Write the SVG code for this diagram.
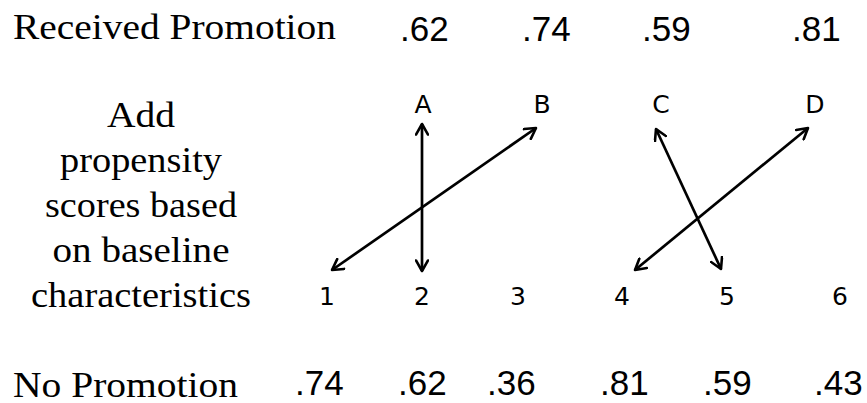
<svg xmlns="http://www.w3.org/2000/svg" width="867" height="403" viewBox="0 0 867 403">
<style>
.serif{font-family:"Liberation Serif","Times New Roman",serif;font-size:36px;fill:#000}
.lbl{text-anchor:middle}
.num{font-family:"Liberation Sans",Arial,sans-serif;font-size:35px;fill:#000}
.hand{font-family:"DejaVu Sans","Liberation Sans",sans-serif;font-size:25px;fill:#000;text-anchor:middle}
.conn line{stroke:#000;stroke-width:2.7;fill:none;marker-start:url(#ah);marker-end:url(#ah)}
</style>
<defs>
<marker id="ah" viewBox="0 0 14 14" refX="12" refY="7" markerWidth="14" markerHeight="14" markerUnits="userSpaceOnUse" orient="auto-start-reverse">
<path d="M1.5,1 L12,7 L1.5,13" fill="none" stroke="#000" stroke-width="2.6" stroke-linecap="round" stroke-linejoin="round"/>
</marker>
</defs>
<rect width="867" height="403" fill="#fff"/>
<g id="top-row">
<text class="serif" x="13" y="39" textLength="323" lengthAdjust="spacingAndGlyphs">Received Promotion</text>
<text class="num" x="400" y="41">.62</text>
<text class="num" x="522" y="41">.74</text>
<text class="num" x="642" y="41">.59</text>
<text class="num" x="792" y="41">.81</text>
</g>
<g id="label">
<text class="serif lbl" x="141" y="127" textLength="68" lengthAdjust="spacingAndGlyphs">Add</text>
<text class="serif lbl" x="141" y="172" textLength="162" lengthAdjust="spacingAndGlyphs">propensity</text>
<text class="serif lbl" x="141" y="217" textLength="192" lengthAdjust="spacingAndGlyphs">scores based</text>
<text class="serif lbl" x="141" y="262" textLength="177" lengthAdjust="spacingAndGlyphs">on baseline</text>
<text class="serif lbl" x="141" y="307" textLength="220" lengthAdjust="spacingAndGlyphs">characteristics</text>
</g>
<g id="node-A"><text class="hand" x="423" y="113">A</text></g>
<g id="node-B"><text class="hand" x="542" y="113">B</text></g>
<g id="node-C"><text class="hand" x="661" y="113">C</text></g>
<g id="node-D"><text class="hand" x="815" y="113">D</text></g>
<g id="node-1"><text class="hand" x="327" y="305">1</text></g>
<g id="node-2"><text class="hand" x="422" y="305">2</text></g>
<g id="node-3"><text class="hand" x="518" y="305">3</text></g>
<g id="node-4"><text class="hand" x="622" y="305">4</text></g>
<g id="node-5"><text class="hand" x="727" y="305">5</text></g>
<g id="node-6"><text class="hand" x="840" y="305">6</text></g>
<g class="conn" id="connectors">
<line x1="422" y1="124" x2="422" y2="271"/>
<line x1="332" y1="270" x2="536" y2="128"/>
<line x1="656" y1="129" x2="721" y2="269"/>
<line x1="635" y1="270" x2="808" y2="128"/>
</g>
<g id="bottom-row">
<text class="serif" x="13" y="397" textLength="225" lengthAdjust="spacingAndGlyphs">No Promotion</text>
<text class="num" x="295" y="395">.74</text>
<text class="num" x="398" y="395">.62</text>
<text class="num" x="487" y="395">.36</text>
<text class="num" x="600" y="395">.81</text>
<text class="num" x="703" y="395">.59</text>
<text class="num" x="814" y="395">.43</text>
</g>
</svg>
